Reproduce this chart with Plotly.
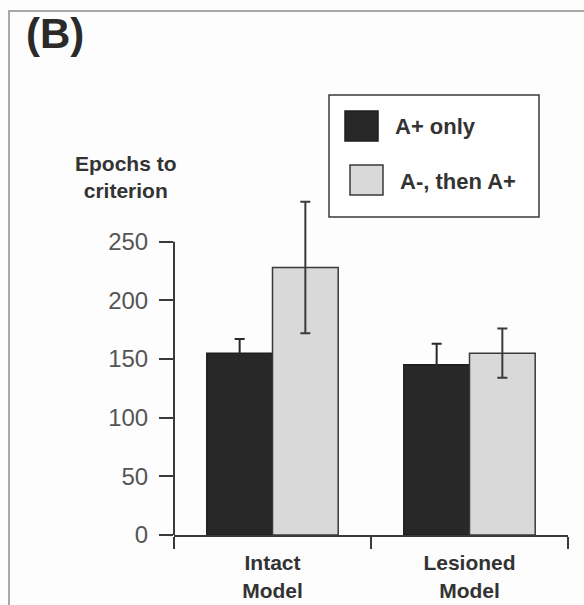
import plotly.graph_objects as go

categories = ["Intact<br>Model", "Lesioned<br>Model"]
series_names = ["A+ only", "A-, then A+"]
a_plus_only = [155, 145]
a_plus_only_err = [12, 18]
a_minus_then_a_plus = [228, 155]
a_minus_then_a_plus_err = [56, 21]
y_tick_vals = [0, 50, 100, 150, 200, 250]
y_title = "Epochs to<br>criterion"
panel_label = "(B)"

W, H = 584, 605
L, R, T, B = 174, 16, 183, 70
PW, PH = W - L - R, H - T - B


def px(x):
    return (x - L) / PW


def py(y):
    return (H - B - y) / PH


FONT = "Liberation Sans, Arial, sans-serif"
DARK = "#282828"
GRAY = "#d9d9d9"
LINE = "#3a3a3a"

fig = go.Figure()
fig.add_trace(go.Bar(
    x=categories, y=a_plus_only, name=series_names[0],
    marker=dict(color=DARK, line=dict(color="#1e1e1e", width=1.5)),
    error_y=dict(type="data", array=a_plus_only_err, color=DARK, thickness=2, width=5),
    cliponaxis=False,
))
fig.add_trace(go.Bar(
    x=categories, y=a_minus_then_a_plus, name=series_names[1],
    marker=dict(color=GRAY, line=dict(color=LINE, width=1.5)),
    error_y=dict(type="data", array=a_minus_then_a_plus_err, color=LINE, thickness=2, width=5),
    cliponaxis=False,
))

shapes = [
    dict(type="line", xref="paper", yref="y", x0=0, x1=0, y0=0, y1=y_tick_vals[-1],
         line=dict(color=LINE, width=2)),
    dict(type="rect", xref="paper", yref="paper", x0=px(9), x1=px(600), y0=py(11), y1=py(620),
         line=dict(color="#a8a8a8", width=2), layer="below"),
    dict(type="rect", xref="paper", yref="paper", x0=px(329), x1=px(539), y0=py(95), y1=py(217),
         line=dict(color=LINE, width=1.5), fillcolor="white"),
    dict(type="rect", xref="paper", yref="paper", x0=px(345), x1=px(378), y0=py(111), y1=py(141),
         line=dict(color="#1e1e1e", width=1.5), fillcolor=DARK),
    dict(type="rect", xref="paper", yref="paper", x0=px(350), x1=px(383), y0=py(165), y1=py(195),
         line=dict(color=LINE, width=1.5), fillcolor=GRAY),
]

annotations = [
    dict(text=f"<b>{panel_label}</b>", xref="paper", yref="paper", x=px(24), y=py(8),
         xanchor="left", yanchor="top", showarrow=False,
         font=dict(family=FONT, size=42, color="#2a2a2a")),
    dict(text=f"<b>{y_title}</b>", xref="paper", yref="paper", x=px(126), y=py(150),
         xanchor="center", yanchor="top", showarrow=False, align="center",
         font=dict(family=FONT, size=21, color="#333")),
    dict(text=f"<b>{series_names[0]}</b>", xref="paper", yref="paper", x=px(393), y=py(126),
         xanchor="left", yanchor="middle", showarrow=False,
         font=dict(family=FONT, size=22, color="#333")),
    dict(text=f"<b>{series_names[1]}</b>", xref="paper", yref="paper", x=px(398), y=py(181),
         xanchor="left", yanchor="middle", showarrow=False,
         font=dict(family=FONT, size=22, color="#333")),
]

fig.update_layout(
    width=W, height=H,
    margin=dict(l=L, r=R, t=T, b=B, autoexpand=False),
    paper_bgcolor="#fdfdfd", plot_bgcolor="rgba(0,0,0,0)",
    barmode="group", bargap=0.333, bargroupgap=0,
    showlegend=False,
    shapes=shapes, annotations=annotations,
    xaxis=dict(
        range=[-0.5, 1.5], showline=True, linecolor=LINE, linewidth=2,
        ticks="outside", tickson="boundaries", ticklen=12, tickwidth=2, tickcolor=LINE,
        showgrid=False, ticklabelstandoff=8, automargin=False,
        tickfont=dict(family=FONT, size=21, color="#333"),
        tickprefix="<b>", ticksuffix="</b>",
    ),
    yaxis=dict(
        range=[0, 300], tickvals=y_tick_vals, showline=False, showgrid=False, zeroline=False,
        ticks="outside", ticklen=14, tickwidth=2, tickcolor=LINE, ticklabelstandoff=6,
        automargin=False,
        tickfont=dict(family=FONT, size=24, color="#555"),
    ),
)

fig.write_html("out.html")
